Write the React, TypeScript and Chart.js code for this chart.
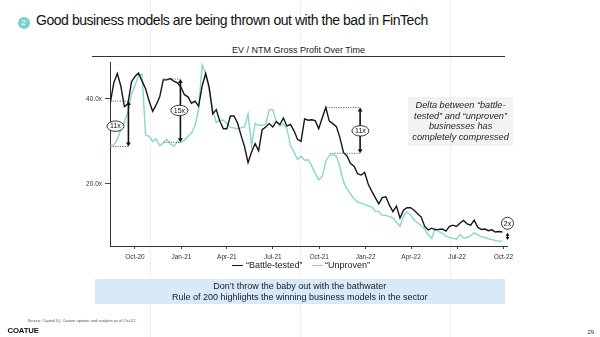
import React, { useEffect, useRef } from 'react';
import { Chart, registerables } from 'chart.js';

Chart.register(...registerables);

// x values are days since 1 Oct 2020; weekly observations from ~13 Aug 2020
const START_DAY = -49;
const STEP_DAYS = 7;

const BATTLE_TESTED = [
  39.0, 43.8, 46.0, 43.0, 38.2, 38.8, 44.0, 45.3, 46.1, 44.2,
  42.4, 39.5, 37.1, 38.6, 40.5, 44.5, 44.5, 44.8, 44.2, 43.8,
  42.8, 41.0, 40.5, 39.0, 39.5, 38.3, 43.0, 46.0, 42.8, 36.5,
  37.5, 34.8, 33.0, 33.0, 36.0, 36.0, 34.4, 31.5, 28.8, 25.0,
  27.5, 29.5, 27.8, 32.8, 33.4, 34.2, 33.4, 34.7, 34.0, 35.5,
  33.6, 34.0, 32.5, 30.5, 30.0, 35.3, 35.0, 35.1, 34.9, 33.0,
  35.6, 38.0, 34.8, 34.2, 33.5, 30.9, 27.4, 26.6, 24.8, 24.2,
  22.4, 22.1, 22.7, 20.0, 18.3, 16.8, 15.3, 16.8, 17.0, 15.0,
  13.5, 14.8, 12.0, 13.8, 14.4, 14.4, 13.8, 13.0, 12.2, 10.0,
  9.2, 9.6, 9.2, 9.3, 9.4, 8.9, 10.0, 10.3, 10.0, 10.8,
  11.4, 10.6, 10.3, 11.5, 9.8, 9.3, 9.4, 9.0, 9.2, 8.7,
  8.8, 8.7,
];

const UNPROVEN = [
  28.9, 29.2, 30.5, 32.8, 34.5, 37.0, 41.0, 43.2, 45.5, 45.8,
  31.5, 31.2, 30.0, 30.6, 29.0, 29.6, 30.5, 29.4, 28.9, 29.9,
  29.8, 30.3, 31.2, 32.0, 33.8, 37.5, 48.0, 46.0, 42.0, 37.5,
  34.5, 35.0, 35.0, 34.2, 33.3, 33.2, 33.0, 33.2, 33.5, 36.5,
  29.0, 34.2, 33.8, 33.8, 34.0, 37.5, 37.5, 34.6, 33.6, 34.2,
  33.0, 29.0, 27.5, 25.8, 26.5, 25.6, 25.7, 24.3, 22.5, 21.0,
  21.8, 25.3, 26.7, 26.9, 26.5, 24.0, 20.6, 18.8, 17.7, 16.5,
  15.8, 15.5, 15.2, 14.8, 14.6, 13.6, 13.5, 12.6, 12.6, 12.3,
  12.0, 11.0, 10.0, 12.5, 13.4, 12.7, 11.5, 10.8, 10.2, 9.4,
  8.0, 7.2, 9.6, 8.8, 8.4, 7.7, 7.4, 7.2, 7.0, 8.1,
  7.3, 7.4, 7.8, 8.5, 8.0, 7.6, 7.4, 7.1, 6.9, 6.7,
  6.5, 6.6,
];

const TICK_DAYS = [0, 92, 182, 273, 365, 457, 547, 638, 730];
const TICK_LABELS = ['Oct-20', 'Jan-21', 'Apr-21', 'Jul-21', 'Oct-21', 'Jan-22', 'Apr-22', 'Jul-22', 'Oct-22'];
const Y_TICKS = [20, 40];
const X_MIN = -49.5;
const X_MAX = 737;
const Y_MIN = 5.4;
const Y_MAX = 48.7;

const SERIES_NAMES = ['“Battle-tested”', '“Unproven”'];

// delta call-outs: arrow day, top/bottom multiples, dotted guide starts, label centre
const DELTA_NOTES = [
  { label: '11x', day: -13, top: 39.5, bottom: 28.8, topFrom: -49, bottomFrom: -49, labelDay: -38.7, labelValue: 33.6 },
  { label: '15x', day: 90, top: 44.7, bottom: 29.8, topFrom: 55, bottomFrom: 57, labelDay: 88, labelValue: 37.3 },
  { label: '11x', day: 446, top: 38.0, bottom: 27.2, topFrom: 379, bottomFrom: 386, labelDay: 446.6, labelValue: 32.5 },
];
const END_NOTE = { label: '2x', day: 738, value: 10.75, arrowTop: 8.5, arrowBottom: 6.8 };
const TEXT_NOTE = {
  day: 645,
  value: 34.7,
  lines: ['Delta between “battle-', 'tested” and “unproven”', 'businesses has', 'completely compressed'],
};

const FONT = '"Liberation Sans", Arial, Helvetica, sans-serif';

function toPoints(values: number[]) {
  return values.map((v, i) => ({ x: START_DAY + i * STEP_DAYS, y: v }));
}

function drawArrow(ctx: CanvasRenderingContext2D, x: number, y1: number, y2: number, head = 4) {
  ctx.beginPath();
  ctx.moveTo(x, y1 + head * 0.5);
  ctx.lineTo(x, y2 - head * 0.5);
  ctx.stroke();
  ctx.beginPath();
  ctx.moveTo(x, y1);
  ctx.lineTo(x - head * 0.6, y1 + head);
  ctx.lineTo(x + head * 0.6, y1 + head);
  ctx.closePath();
  ctx.fill();
  ctx.beginPath();
  ctx.moveTo(x, y2);
  ctx.lineTo(x - head * 0.6, y2 - head);
  ctx.lineTo(x + head * 0.6, y2 - head);
  ctx.closePath();
  ctx.fill();
}

const notesPlugin = {
  id: 'deltaNotes',
  afterDatasetsDraw(chart: any) {
    const { ctx } = chart;
    const xs = chart.scales.x;
    const ys = chart.scales.y;
    const X = (d: number) => xs.getPixelForValue(d);
    const Y = (v: number) => ys.getPixelForValue(v);
    ctx.save();

    // text call-out box
    const cx = X(TEXT_NOTE.day);
    const cy = Y(TEXT_NOTE.value);
    ctx.fillStyle = 'rgba(238,238,238,0.75)';
    ctx.fillRect(cx - 52.5, cy - 24.5, 105, 49);
    ctx.fillStyle = '#1e1e1e';
    ctx.font = `italic 9.2px ${FONT}`;
    ctx.textAlign = 'center';
    ctx.textBaseline = 'middle';
    TEXT_NOTE.lines.forEach((t, i) => {
      ctx.fillText(t, cx, cy + (i - 1.5) * 10.4);
    });

    DELTA_NOTES.forEach((n) => {
      const ax = X(n.day);
      const yt = Y(n.top);
      const yb = Y(n.bottom);
      ctx.setLineDash([1.2, 1.2]);
      ctx.strokeStyle = '#444';
      ctx.lineWidth = 0.8;
      ctx.beginPath();
      ctx.moveTo(X(n.topFrom), yt);
      ctx.lineTo(ax, yt);
      ctx.moveTo(X(n.bottomFrom), yb);
      ctx.lineTo(ax, yb);
      ctx.stroke();
      ctx.setLineDash([]);
      ctx.strokeStyle = '#111';
      ctx.fillStyle = '#111';
      ctx.lineWidth = 1.6;
      drawArrow(ctx, ax, yt, yb);

      const ex = X(n.labelDay);
      const ey = Y(n.labelValue);
      ctx.beginPath();
      ctx.ellipse(ex, ey, 8.5, 5.2, 0, 0, Math.PI * 2);
      ctx.fillStyle = '#fff';
      ctx.fill();
      ctx.lineWidth = 0.9;
      ctx.strokeStyle = '#222';
      ctx.stroke();
      ctx.fillStyle = '#111';
      ctx.font = `7px ${FONT}`;
      ctx.textAlign = 'center';
      ctx.textBaseline = 'middle';
      ctx.fillText(n.label, ex, ey + 0.3);
    });

    // end "2x" marker
    const ex = X(END_NOTE.day);
    const ey = Y(END_NOTE.value);
    ctx.beginPath();
    ctx.arc(ex, ey, 6, 0, Math.PI * 2);
    ctx.fillStyle = '#fff';
    ctx.fill();
    ctx.lineWidth = 0.9;
    ctx.strokeStyle = '#222';
    ctx.stroke();
    ctx.fillStyle = '#111';
    ctx.font = `7px ${FONT}`;
    ctx.fillText(END_NOTE.label, ex, ey + 0.3);
    ctx.strokeStyle = '#111';
    ctx.fillStyle = '#111';
    ctx.lineWidth = 1.4;
    drawArrow(ctx, ex, Y(END_NOTE.arrowTop), Y(END_NOTE.arrowBottom), 3);

    ctx.restore();
  },
};

function ChartCanvas() {
  const ref = useRef<HTMLCanvasElement | null>(null);
  useEffect(() => {
    if (!ref.current) return;
    Chart.defaults.font.family = FONT;
    const chart = new Chart(ref.current, {
      type: 'line',
      data: {
        datasets: [
          {
            label: SERIES_NAMES[0],
            data: toPoints(BATTLE_TESTED),
            borderColor: '#161616',
            borderWidth: 1.4,
            pointRadius: 0,
            tension: 0,
          },
          {
            label: SERIES_NAMES[1],
            data: toPoints(UNPROVEN),
            borderColor: '#86d8cb',
            borderWidth: 1.4,
            pointRadius: 0,
            tension: 0,
          },
        ],
      },
      options: {
        responsive: false,
        animation: false,
        devicePixelRatio: 1,
        layout: { padding: { left: 0, right: 93, top: 62, bottom: 71 } },
        plugins: { legend: { display: false }, tooltip: { enabled: false }, title: { display: false } },
        scales: {
          x: {
            type: 'linear',
            min: X_MIN,
            max: X_MAX,
            afterFit: (s: any) => {
              s.height = 20;
            },
            afterBuildTicks: (s: any) => {
              s.ticks = TICK_DAYS.map((v) => ({ value: v }));
            },
            ticks: {
              autoSkip: false,
              maxRotation: 0,
              padding: 4,
              color: '#333',
              font: { size: 6.5 },
              callback: (v: any) => TICK_LABELS[TICK_DAYS.indexOf(Number(v))] ?? '',
            },
            grid: { drawOnChartArea: false, drawTicks: true, tickLength: 3, color: '#444' },
            border: { display: true, color: '#333', width: 1 },
          },
          y: {
            type: 'linear',
            min: Y_MIN,
            max: Y_MAX,
            afterFit: (s: any) => {
              s.width = 110;
            },
            afterBuildTicks: (s: any) => {
              s.ticks = Y_TICKS.map((v) => ({ value: v }));
            },
            ticks: {
              padding: 3,
              color: '#333',
              font: { size: 6.5 },
              callback: (v: any) => Number(v).toFixed(1) + 'x',
            },
            grid: { drawOnChartArea: false, drawTicks: true, tickLength: 5, color: '#444' },
            border: { display: true, color: '#333', width: 1 },
          },
        },
      },
      plugins: [notesPlugin],
    } as any);
    return () => chart.destroy();
  }, []);
  return (
    <canvas
      ref={ref}
      width={600}
      height={337}
      style={{ position: 'absolute', left: 0, top: 0, width: 600, height: 337 }}
    />
  );
}

const abs = (s: React.CSSProperties): React.CSSProperties => ({ position: 'absolute', whiteSpace: 'nowrap', ...s });

export default function App() {
  return (
    <div
      style={{
        position: 'fixed',
        left: 0,
        top: 0,
        width: 600,
        height: 337,
        overflow: 'hidden',
        background: '#fff',
        fontFamily: FONT,
        color: '#111',
      }}
    >
      {[150, 300, 450].map((x) => (
        <div key={x} style={abs({ left: x, top: 0, width: 1, height: 337, background: '#f1f1f1' })} />
      ))}
      <div
        style={abs({
          left: 17.5,
          top: 16.5,
          width: 12,
          height: 12,
          borderRadius: 6,
          background: '#7dd0cf',
          color: '#fff',
          fontSize: 8,
          lineHeight: '12px',
          textAlign: 'center',
        })}
      >
        2
      </div>
      <div style={abs({ left: 36, top: 13, fontSize: 14, lineHeight: '14px', letterSpacing: -0.45, color: '#111' })}>
        Good business models are being thrown out with the bad in FinTech
      </div>
      <div style={abs({ left: 198.5, width: 200, top: 44.5, fontSize: 9, lineHeight: '10px', textAlign: 'center', color: '#222' })}>
        EV / NTM Gross Profit Over Time
      </div>
      <div style={abs({ left: 92, top: 56, width: 413, height: 1.3, background: '#333' })} />

      <ChartCanvas />

      <div style={abs({ left: 231.7, top: 264.6, width: 11.6, height: 1.4, background: '#161616' })} />
      <div style={abs({ left: 246, top: 260.3, fontSize: 9, lineHeight: '10px', color: '#222' })}>{SERIES_NAMES[0]}</div>
      <div style={abs({ left: 311.7, top: 264.6, width: 11.6, height: 1.4, background: '#86d8cb' })} />
      <div style={abs({ left: 325, top: 260.3, fontSize: 9, lineHeight: '10px', color: '#222' })}>{SERIES_NAMES[1]}</div>

      <div style={abs({ left: 94.5, top: 278.5, width: 410.5, height: 25, background: '#d8e9f8' })} />
      <div style={abs({ left: 94.5, width: 410.5, top: 281, fontSize: 9, lineHeight: '10.5px', textAlign: 'center', color: '#1a1a1a' })}>
        Don’t throw the baby out with the bathwater
      </div>
      <div style={abs({ left: 94.5, width: 410.5, top: 291.5, fontSize: 9, lineHeight: '10.5px', textAlign: 'center', color: '#1a1a1a' })}>
        Rule of 200 highlights the winning business models in the sector
      </div>

      <div style={abs({ left: 27.5, top: 318, fontSize: 4, lineHeight: '5px', color: '#555' })}>
        Source: Capital IQ, Coatue opinion and analysis as of Oct-22.
      </div>
      <div style={abs({ left: 7.5, top: 325.5, fontSize: 7.8, lineHeight: '9px', fontWeight: 600, letterSpacing: -0.2, color: '#111' })}>
        COATUE
      </div>
      <div style={abs({ left: 587.5, top: 328.5, fontSize: 6, lineHeight: '7px', color: '#333' })}>29</div>
    </div>
  );
}
